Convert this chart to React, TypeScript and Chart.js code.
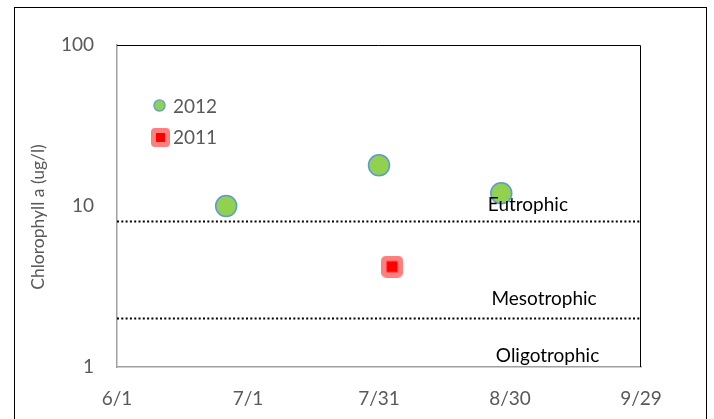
import React, { useEffect, useRef } from "react";
import { Chart, registerables } from "chart.js";

Chart.register(...registerables);

// ---------- data ----------
const xTickLabels = ["6/1", "7/1", "7/31", "8/30", "9/29"];
const xTickDates = ["6/1", "7/1", "7/31", "8/30", "9/29"];
const yTickValues = [1, 10, 100];

const series2012Label = "2012";
const dates2012 = ["6/26", "7/31", "8/28"];
const values2012 = [10.0, 17.9, 12.0];

const series2011Label = "2011";
const dates2011 = ["8/3"];
const values2011 = [4.2];

const thresholdValues = [8, 2];
const trophicLabels = ["Eutrophic", "Mesotrophic", "Oligotrophic"];

const yAxisTitle = "Chlorophyll a (ug/l)";

// ---------- helpers ----------
const BASE = Date.UTC(2012, 5, 1);
function dayOf(md: string): number {
  const [m, d] = md.split("/").map(Number);
  return (Date.UTC(2012, m - 1, d) - BASE) / 86400000;
}
const xTickDays = xTickDates.map(dayOf);

// label anchors (day offset, value at text baseline)
const labelAnchorDays = [94.1, 97.8, 98.6];
const labelAnchorValues = [9.3, 2.41, 1.08];

const FONT = "Lato, 'Open Sans', sans-serif";
const GRAY_TEXT = "#595959";
const GREEN = "#92D050";
const BLUE = "#5B9BD5";

function squareMarker(size: number, inner: number, radius: number): HTMLCanvasElement {
  const c = document.createElement("canvas");
  c.width = size;
  c.height = size;
  const g = c.getContext("2d")!;
  g.fillStyle = "rgba(255,0,0,0.5)";
  g.beginPath();
  (g as any).roundRect(0, 0, size, size, radius);
  g.fill();
  g.fillStyle = "#FF0000";
  const o = (size - inner) / 2;
  g.fillRect(o, o, inner, inner);
  return c;
}

export default function App() {
  const ref = useRef<HTMLCanvasElement>(null);

  useEffect(() => {
    const dataMarker = squareMarker(22, 11, 5);
    const legendMarker = squareMarker(19, 9, 4);

    const decor = {
      id: "decor",
      beforeDatasetsDraw(chart: any) {
        const { ctx, chartArea: a } = chart;
        ctx.save();
        ctx.strokeStyle = "#000";
        ctx.lineWidth = 1;
        ctx.beginPath();
        ctx.moveTo(a.left, a.top + 0.5);
        ctx.lineTo(a.right - 0.5, a.top + 0.5);
        ctx.lineTo(a.right - 0.5, a.bottom);
        ctx.stroke();
        // y-axis title
        ctx.translate(38, 217);
        ctx.rotate(-Math.PI / 2);
        ctx.fillStyle = GRAY_TEXT;
        ctx.font = `17.5px ${FONT}`;
        ctx.textAlign = "center";
        ctx.textBaseline = "middle";
        ctx.fillText(yAxisTitle, 0, 0);
        ctx.restore();
      },
      afterDatasetsDraw(chart: any) {
        const { ctx, scales } = chart;
        ctx.save();
        // trophic labels
        ctx.fillStyle = "#000";
        ctx.font = `19px ${FONT}`;
        ctx.textAlign = "center";
        ctx.textBaseline = "alphabetic";
        trophicLabels.forEach((t, i) => {
          const x = scales.x.getPixelForValue(labelAnchorDays[i]);
          const y = scales.y.getPixelForValue(labelAnchorValues[i]);
          ctx.fillText(t, x, y);
        });
        // legend
        const ds = chart.data.datasets;
        ctx.textAlign = "left";
        ctx.beginPath();
        ctx.arc(159.5, 105.5, 5.6, 0, Math.PI * 2);
        ctx.fillStyle = GREEN;
        ctx.fill();
        ctx.lineWidth = 1.2;
        ctx.strokeStyle = BLUE;
        ctx.stroke();
        ctx.drawImage(legendMarker, 151, 128);
        ctx.fillStyle = GRAY_TEXT;
        ctx.fillText(ds[0].label, 173, 113);
        ctx.fillText(ds[1].label, 173, 144);
        ctx.restore();
      },
    };

    const thresholdDatasets = thresholdValues.map((v) => ({
      label: "threshold " + v,
      data: [
        { x: xTickDays[0], y: v },
        { x: xTickDays[xTickDays.length - 1], y: v },
      ],
      showLine: true,
      borderColor: "#000",
      borderWidth: 2,
      borderDash: [2, 2.3],
      pointRadius: 0,
      fill: false,
    }));

    const chart = new Chart(ref.current!, {
      type: "scatter",
      data: {
        datasets: [
          {
            label: series2012Label,
            data: dates2012.map((d, i) => ({ x: dayOf(d), y: values2012[i] })),
            pointStyle: "circle",
            pointRadius: 10.5,
            pointBackgroundColor: GREEN,
            pointBorderColor: BLUE,
            pointBorderWidth: 1.5,
          },
          {
            label: series2011Label,
            data: dates2011.map((d, i) => ({ x: dayOf(d), y: values2011[i] })),
            pointStyle: dataMarker,
            pointRadius: 11,
          },
          ...thresholdDatasets,
        ] as any,
      },
      options: {
        animation: false,
        responsive: false,
        devicePixelRatio: 1,
        layout: { padding: { top: 45, right: 73, left: 0, bottom: 0 } },
        plugins: {
          legend: { display: false },
          tooltip: { enabled: false },
          title: { display: false },
        },
        scales: {
          x: {
            type: "linear",
            min: xTickDays[0],
            max: xTickDays[xTickDays.length - 1],
            grid: { display: false, drawTicks: false },
            border: { display: true, color: "#A0A0A0", width: 1.5 },
            afterBuildTicks: (s: any) => {
              s.ticks = xTickDays.map((v) => ({ value: v }));
            },
            afterFit: (s: any) => {
              s.height = 52;
            },
            ticks: {
              padding: 20,
              color: GRAY_TEXT,
              font: { family: FONT, size: 19 },
              maxRotation: 0,
              autoSkip: false,
              callback: (_v: any, i: number) => xTickLabels[i],
            },
          },
          y: {
            type: "logarithmic",
            min: yTickValues[0],
            max: yTickValues[yTickValues.length - 1],
            grid: { display: false, drawTicks: false },
            border: { display: true, color: "#A0A0A0", width: 1.5 },
            afterBuildTicks: (s: any) => {
              s.ticks = yTickValues.map((v) => ({ value: v }));
            },
            afterFit: (s: any) => {
              s.width = 117;
            },
            ticks: {
              padding: 23,
              color: GRAY_TEXT,
              font: { family: FONT, size: 19 },
              autoSkip: false,
              callback: (_v: any, i: number) => String(yTickValues[i]),
            },
          },
        },
      },
      plugins: [decor],
    } as any);

    return () => chart.destroy();
  }, []);

  return (
    <div
      style={{
        position: "fixed",
        left: 0,
        top: 0,
        width: 714,
        height: 419,
        overflow: "hidden",
        background: "#fff",
      }}
    >
      <div
        style={{
          position: "absolute",
          left: 14,
          top: 7,
          width: 693,
          height: 500,
          border: "1px solid #000",
          boxSizing: "border-box",
        }}
      />
      <canvas
        ref={ref}
        width={714}
        height={419}
        style={{ position: "absolute", left: 0, top: 0, width: 714, height: 419 }}
      />
    </div>
  );
}
